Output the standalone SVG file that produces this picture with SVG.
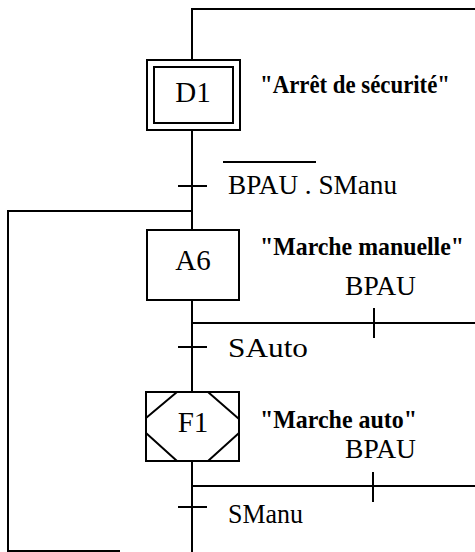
<svg xmlns="http://www.w3.org/2000/svg" width="475" height="552" viewBox="0 0 475 552">
<style>
.ln{stroke:#000;stroke-width:2;fill:none}
.bx{stroke:#000;stroke-width:2;fill:#fff}
text{font-family:'Liberation Serif','Times New Roman','DejaVu Serif',serif;fill:#000}
.q{font-size:25px;font-weight:bold}
.c{font-size:27px}
.s{font-size:29px;text-anchor:middle}
</style>
<rect width="475" height="552" fill="#fff"/>
<g id="connectors">
<path class="ln" d="M475 9 H192 V60"/>
<path class="ln" d="M192 130 V230"/>
<path class="ln" d="M178 186 H207"/>
<path class="ln" d="M223 162 H316"/>
<path class="ln" d="M192 211 H8 V551 H120"/>
<path class="ln" d="M192 300 V392"/>
<path class="ln" d="M192 323 H475"/>
<path class="ln" d="M374 308 V338"/>
<path class="ln" d="M178 347 H207"/>
<path class="ln" d="M192 461 V552"/>
<path class="ln" d="M192 486 H475"/>
<path class="ln" d="M373 472 V502"/>
<path class="ln" d="M178 507 H207"/>
</g>
<g id="t1"><text class="c" x="228" y="194" textLength="169" lengthAdjust="spacingAndGlyphs">BPAU . SManu</text></g>
<g id="t2"><text class="c" x="345" y="295" textLength="71" lengthAdjust="spacingAndGlyphs">BPAU</text></g>
<g id="t3"><text class="c" x="228" y="357" textLength="80" lengthAdjust="spacingAndGlyphs">SAuto</text></g>
<g id="t4"><text class="c" x="345" y="458" textLength="71" lengthAdjust="spacingAndGlyphs">BPAU</text></g>
<g id="t5"><text class="c" x="228" y="523" textLength="75" lengthAdjust="spacingAndGlyphs">SManu</text></g>
<g id="D1">
<rect class="bx" x="147" y="60" width="93" height="70"/>
<rect class="ln" x="154" y="67" width="79" height="56"/>
<text class="s" x="193" y="102">D1</text>
<text class="q" x="260" y="93" textLength="190" lengthAdjust="spacingAndGlyphs">"Arrêt de sécurité"</text>
</g>
<g id="A6">
<rect class="bx" x="147" y="230" width="92" height="70"/>
<text class="s" x="193" y="270">A6</text>
<text class="q" x="260" y="255" font-size="24" textLength="204" lengthAdjust="spacingAndGlyphs">"Marche manuelle"</text>
</g>
<g id="F1">
<rect class="bx" x="146" y="392" width="93" height="69"/>
<path class="ln" d="M146 418 L177 392 M208 392 L239 419 M146 433 L177 461 M208 461 L239 433"/>
<text class="s" x="193" y="432">F1</text>
<text class="q" x="260" y="428" textLength="157" lengthAdjust="spacingAndGlyphs">"Marche auto"</text>
</g>
</svg>
